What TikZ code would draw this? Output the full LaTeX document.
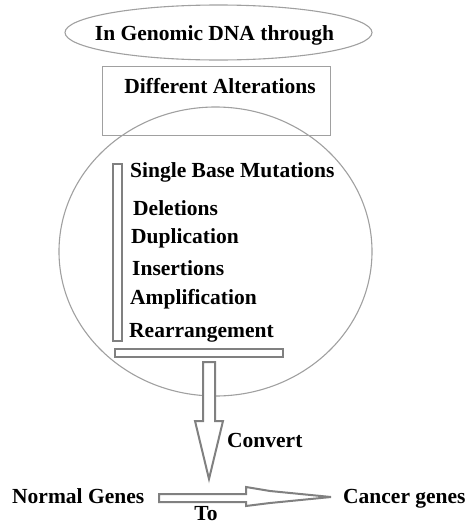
\documentclass[tikz,border=0pt]{standalone}
\usepackage{fontspec}
\setmainfont{Liberation Serif}
\usetikzlibrary{positioning,shapes.geometric}
\definecolor{rim}{HTML}{A0A0A0}
\definecolor{barline}{HTML}{808080}
\tikzset{entry/.style={font=\bfseries\fontsize{21.5}{24}\selectfont,inner sep=0pt,anchor=base west},
  rimline/.style={draw=rim,line width=1.1pt},
  barbox/.style={draw=barline,line width=2pt,fill=white,inner sep=0pt},
  blockarrow/.style={draw=barline,line width=2pt,fill=white,line join=miter}}

\begin{document}
\begin{tikzpicture}[x=1pt,y=-1pt]
\useasboundingbox (0,0) rectangle (472,525);
% outer shapes
\node[ellipse,rimline,minimum width=307pt,minimum height=55pt,inner sep=0pt] (dna) at (218.5,32.5) {};
\node[entry,anchor=base] at (214.5,40) {In Genomic DNA through};
\node[rimline,minimum width=228pt,minimum height=69pt,anchor=north west] (alter) at (102,66) {};
\node[entry,anchor=base] at (220,93) {Different Alterations};
\node[ellipse,rimline,minimum width=313pt,minimum height=289pt,inner sep=0pt] (pool) at (215.5,251.5) {};
% bars beside the list
\node[barbox,minimum width=9pt,minimum height=177pt,anchor=north west] (vbar) at (112,163) {};
\node[barbox,minimum width=168pt,minimum height=8pt,anchor=north west] (hbar) at (114,348) {};
% kinds of alterations
\node[entry] (single) at (130,177) {Single Base Mutations};
\node[entry] (del) at (133,215) {Deletions};
\node[entry] (dup) at (131,243) {Duplication};
\node[entry] (ins) at (132,275) {Insertions};
\node[entry] (amp) at (130,304) {Amplification};
\node[entry] (rea) at (129,337) {Rearrangement};
% block arrows
\draw[blockarrow] (203,362) -- (215,362) -- (215,421) -- (223,421) -- (209,479)
  -- (195,421) -- (203,421) -- cycle;
\node[entry] (conv) at (227,447) {Convert};
\node[entry] (normal) at (12,503) {Normal Genes};
\node[entry] (cancer) at (343,503) {Cancer genes};
\draw[blockarrow] (159,494) -- (246,494) -- (246,487) -- (270,491) -- (331,497)
  -- (270,503) -- (246,506) -- (246,502) -- (159,502) -- cycle;
\node[entry,anchor=base] (to) at (206,520) {To};
\end{tikzpicture}
\end{document}
